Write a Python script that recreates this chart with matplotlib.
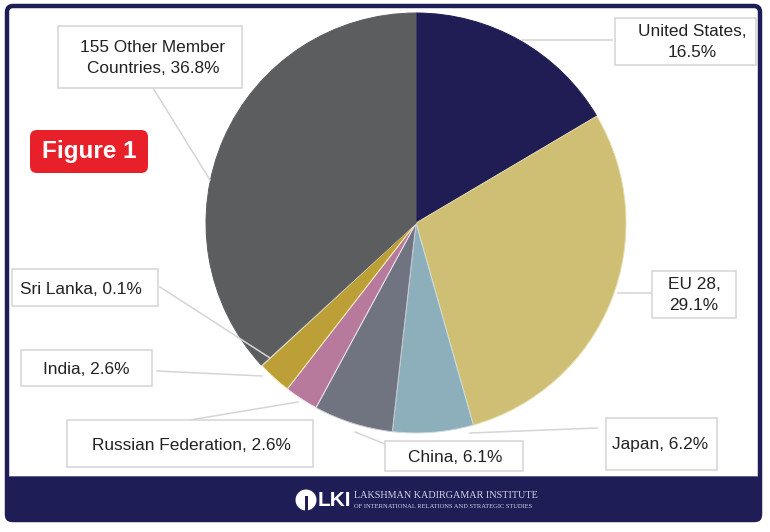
import matplotlib
matplotlib.use("Agg")
import matplotlib.pyplot as plt
from matplotlib.patches import FancyBboxPatch, Rectangle

countries = ["United States", "EU 28", "Japan", "China", "Russian Federation", "India", "Sri Lanka", "155 Other Member Countries"]
shares = [16.5, 29.1, 6.2, 6.1, 2.6, 2.6, 0.1, 36.8]
colors = ["#201d55", "#cfbf74", "#8dafbb", "#6f7480", "#b87a9c", "#bd9f38", "#d8d8c8", "#5c5d5f"]
edge_colors = ["#201d55", "#e6dcae", "#cfdadd", "#c9c9d0", "#f2e6ee", "#f5eeb8", "#d8d8c8", "#5c5d5f"]
label_texts = ["United States,\n16.5%", "EU 28,\n29.1%", "Japan, 6.2%", "China, 6.1%", "Russian Federation, 2.6%",
               "India, 2.6%", "Sri Lanka, 0.1%", "155 Other Member\nCountries, 36.8%"]

W, H = 770, 532
NAVY = "#1f1d56"
plt.rcParams["font.family"] = ["Liberation Sans", "DejaVu Sans"]

fig = plt.figure(figsize=(W/100, H/100), dpi=100, facecolor="white")
bg = fig.add_axes([0, 0, 1, 1])
bg.set_xlim(0, W); bg.set_ylim(H, 0); bg.axis("off")

# frame and footer
bg.add_patch(FancyBboxPatch((7, 6), 753, 514, boxstyle="round,pad=0,rounding_size=6",
                            fc="white", ec=NAVY, lw=3.2, zorder=1))
bg.add_patch(FancyBboxPatch((6, 477), 755, 44, boxstyle="round,pad=0,rounding_size=5",
                            fc=NAVY, ec=NAVY, lw=1, zorder=2))

# pie
cx, cy, r = 416, 223, 210
pie_ax = fig.add_axes([(cx-r)/W, 1-(cy+r)/H, 2*r/W, 2*r/H], zorder=2)
wedges, _ = pie_ax.pie(shares, colors=colors, startangle=90, counterclock=False, radius=1,
                       wedgeprops=dict(linewidth=0.7))
for wedge, ec in zip(wedges, edge_colors):
    wedge.set_edgecolor(ec)
pie_ax.set_xlim(-1, 1); pie_ax.set_ylim(-1, 1)

# overlay
ov = fig.add_axes([0, 0, 1, 1], zorder=3)
ov.set_xlim(0, W); ov.set_ylim(H, 0); ov.axis("off"); ov.patch.set_alpha(0)

boxes = [(615, 18, 141, 47), (652, 271, 84, 47), (606, 418, 111, 52), (385, 441, 138, 30),
         (67, 420, 246, 47), (21, 350, 131, 36), (12, 269, 146, 37), (58, 26, 184, 62)]
text_pos = [(692, 42), (694, 295), (660, 445), (455, 457), (191, 446), (86, 369), (81, 289), (153, 58)]
leaders = [((612, 40), (522, 40)), ((652, 293), (618, 293)), ((597, 428), (470, 433)), ((390, 446), (355, 432)),
           ((190, 420), (298, 402)), ((157, 371), (262, 376)), ((160, 287), (270, 358)), ((153, 88), (210, 180))]
for label, (x, y, w, h), (tx, ty), (p, q) in zip(label_texts, boxes, text_pos, leaders):
    ov.plot([p[0], q[0]], [p[1], q[1]], color="#d5d5d5", lw=1.1, zorder=3)
    ov.add_patch(Rectangle((x, y), w, h, fc="white", ec="#d4d4d4", lw=1.1, zorder=4))
    ov.text(tx, ty, label, ha="center", va="center", fontsize=12.4, color="#222222",
            linespacing=1.5, zorder=5)

# Figure badge
ov.add_patch(FancyBboxPatch((30, 130), 118, 43, boxstyle="round,pad=0,rounding_size=7",
                            fc="#e8202a", ec="none", zorder=4))
ov.text(89, 151.5, "Figure 1", ha="center", va="center", fontsize=17.5, fontweight="bold", color="white", zorder=5)

# footer logo text
ov.text(334, 500, "LKI", ha="center", va="center", fontsize=15, fontweight="bold", color="white", zorder=5)
ov.text(354, 495, "LAKSHMAN KADIRGAMAR INSTITUTE", ha="left", va="center", fontsize=7.3,
        family=["Liberation Serif", "DejaVu Serif"], color="#d4d4e4", zorder=5)
ov.text(354, 507, "OF INTERNATIONAL RELATIONS AND STRATEGIC STUDIES", ha="left", va="center", fontsize=4.7,
        family=["Liberation Serif", "DejaVu Serif"], color="#d4d4e4", zorder=5)
ov.add_patch(plt.Circle((306, 500), 10.5, fc="white", ec="none", zorder=5))
ov.add_patch(Rectangle((304.5, 496), 3, 15, fc=NAVY, ec="none", zorder=6))

fig.savefig("out.png", dpi=100, facecolor="white")
